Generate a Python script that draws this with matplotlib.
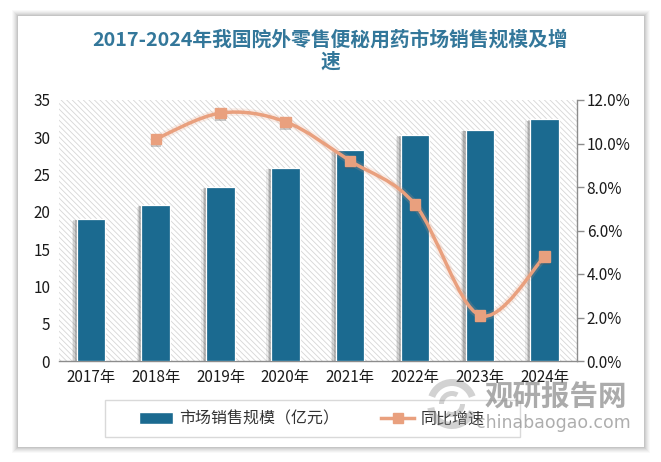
import matplotlib
matplotlib.use("Agg")
import matplotlib.pyplot as plt
import matplotlib.patheffects as pe
from matplotlib.patches import Rectangle, Wedge
from matplotlib.path import Path
from matplotlib.patches import PathPatch
from matplotlib.lines import Line2D

plt.rcParams['font.family'] = ['Noto Sans CJK SC', 'DejaVu Sans']
plt.rcParams['hatch.linewidth'] = 0.6

years = ['2017年', '2018年', '2019年', '2020年', '2021年', '2022年', '2023年', '2024年']
market_size = [19.0, 20.9, 23.3, 25.9, 28.3, 30.3, 31.0, 32.4]
growth_years = [1, 2, 3, 4, 5, 6, 7]
growth = [10.2, 11.4, 11.0, 9.2, 7.2, 2.1, 4.8]
title_text = '2017-2024年我国院外零售便秘用药市场销售规模及增\n速'
bar_label = '市场销售规模（亿元）'
line_label = '同比增速'
BLUE = '#1b6a90'
ORANGE = '#e9a07e'
W, H = 661, 462

fig = plt.figure(figsize=(W / 100, H / 100), dpi=100, facecolor='white')

# card with soft shadow
for i, a in zip(range(6, 0, -1), [.025, .03, .035, .04, .05, .06]):
    fig.add_artist(Rectangle(((18 - i) / W, 1 - (447 + i) / H), (626 + 2 * i) / W, (431 + 2 * i) / H,
                             transform=fig.transFigure, fc='black', alpha=a, ec='none', zorder=-3))
fig.add_artist(Rectangle((18 / W, 1 - 447 / H), 626 / W, 431 / H, transform=fig.transFigure,
                         fc='white', ec='none', zorder=-2))

ax = fig.add_axes([58.5 / W, 1 - 361 / H, 518.5 / W, 261 / H])
ax.set_xlim(-0.5, 7.5)
ax.set_ylim(0, 35)
ax.patch.set_facecolor('white')
ax.patch.set_hatch('\\\\\\\\\\\\')
ax.patch.set_edgecolor('#d6d6d6')
ax.patch.set_linewidth(0)

bars = ax.bar(range(len(years)), market_size, width=0.44, color=BLUE, edgecolor='white', linewidth=0.9, zorder=3)
bar_shadow = [pe.SimplePatchShadow(offset=(-o, -o / 3), shadow_rgbFace='#666666', alpha=a)
              for o, a in [(3.5, 0.12), (2.5, 0.2), (1.5, 0.3)]]
for b in bars:
    b.set_path_effects(bar_shadow + [pe.Normal()])

ax.set_xticks(range(len(years)), years)
ax.set_yticks(range(0, 36, 5))
ax.tick_params(axis='x', length=0, labelsize=11, pad=6, labelcolor='#1a1a1a')
ax.tick_params(axis='y', length=0, labelsize=11, pad=6, labelcolor='#1a1a1a')
for s in ['top', 'left', 'right']:
    ax.spines[s].set_visible(False)
ax.spines['bottom'].set_color('#8c8c8c')
ax.spines['bottom'].set_linewidth(1.0)

ax2 = ax.twinx()
ax2.set_ylim(0, 12)
ax2.set_yticks(range(0, 13, 2), [f'{v:.1f}%' for v in range(0, 13, 2)])
ax2.tick_params(axis='y', length=5, width=1, color='#8c8c8c', labelsize=11, pad=2, labelcolor='#1a1a1a')
for s in ['top', 'left', 'bottom']:
    ax2.spines[s].set_visible(False)
ax2.spines['right'].set_color('#8c8c8c')
ax2.spines['right'].set_linewidth(1.0)

# smoothed line through the data points (Catmull-Rom as Bezier segments)
verts = [(growth_years[0], growth[0])]
codes = [Path.MOVETO]
n = len(growth)
for i in range(n - 1):
    x0, y0 = (growth_years[max(i - 1, 0)], growth[max(i - 1, 0)])
    x1, y1 = (growth_years[i], growth[i])
    x2, y2 = (growth_years[i + 1], growth[i + 1])
    x3, y3 = (growth_years[min(i + 2, n - 1)], growth[min(i + 2, n - 1)])
    verts += [(x1 + (x2 - x0) / 6, y1 + (y2 - y0) / 6), (x2 - (x3 - x1) / 6, y2 - (y3 - y1) / 6), (x2, y2)]
    codes += [Path.CURVE4] * 3
glow = [pe.Stroke(linewidth=5.5, foreground=ORANGE, alpha=0.18), pe.Normal()]
ax2.add_patch(PathPatch(Path(verts, codes), fc='none', ec=ORANGE, lw=2.5, zorder=4, path_effects=glow))
ax2.plot(growth_years, growth, ls='none', marker='s', ms=7.5, color=ORANGE, mec=ORANGE, zorder=5,
         path_effects=[pe.SimplePatchShadow(offset=(0, -2), shadow_rgbFace='#555555', alpha=0.3), pe.Normal()])

fig.text(330 / W, 1 - 51 / H, title_text, ha='center', va='center', fontsize=14.2, fontweight='bold',
         color='#33779a', linespacing=1.15)

# legend box
fig.add_artist(Rectangle((105 / W, 1 - 437 / H), 415 / W, 37 / H, transform=fig.transFigure,
                         fc='white', ec='#d9d9d9', lw=1, zorder=5))
handles = [Rectangle((0, 0), 1, 1, fc=BLUE, ec='white'),
           Line2D([], [], color=ORANGE, lw=2.5, marker='s', ms=7.5)]
leg = fig.legend(handles, [bar_label, line_label], loc='center', bbox_to_anchor=(312 / W, 1 - 419 / H),
                 ncol=2, frameon=False, fontsize=11.5, handlelength=2.1, handleheight=0.7,
                 columnspacing=2.6, handletextpad=0.4, labelcolor='#333333')
leg.set_zorder(6)

# watermark
lx, ly = 452, 404
wax = fig.add_axes([0, 0, 1, 1], facecolor='none', zorder=7)
wax.set_xlim(0, W)
wax.set_ylim(H, 0)
wax.axis('off')
for th1, th2, r, w in [(200, 340, 25, 7), (20, 170, 25, 7), (180, 300, 13, 5), (0, 120, 13, 5)]:
    wax.add_patch(Wedge((lx, ly), r, th1, th2, width=w, fc='#8f8f8f', ec='none', alpha=0.4))
fig.text(556 / W, 1 - 397 / H, '观研报告网', ha='center', va='center', fontsize=20.5, fontweight='bold',
         color='#8f8f8f', alpha=0.75, zorder=8)
fig.text(553 / W, 1 - 423 / H, 'chinabaogao.com', ha='center', va='center', fontsize=12.5,
         family=['DejaVu Sans'], color='#9a9a9a', alpha=0.8, zorder=8)

fig.savefig('out.png', dpi=100)
